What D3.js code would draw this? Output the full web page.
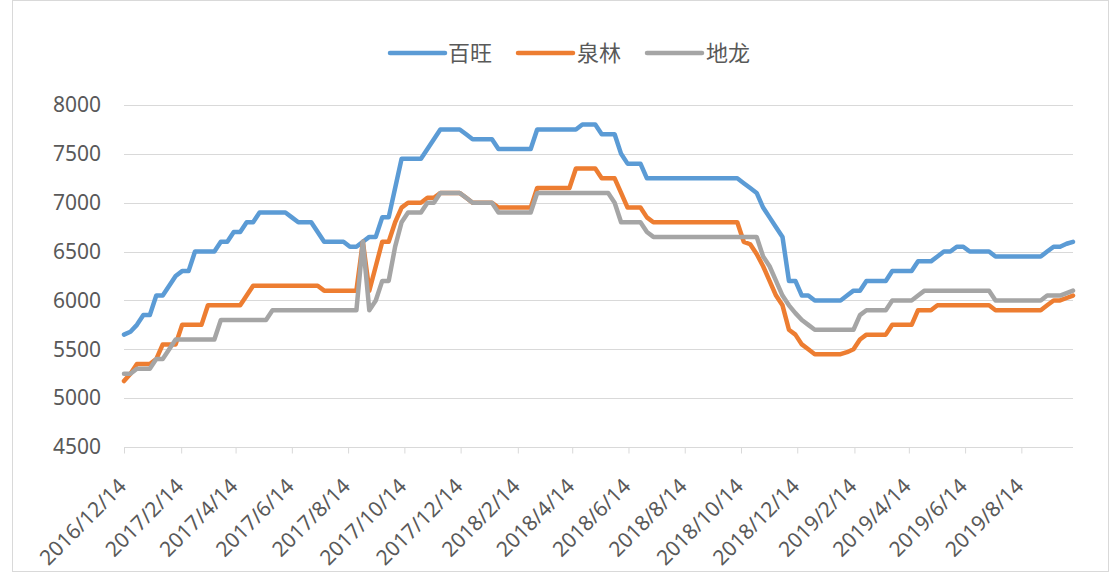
<!DOCTYPE html>
<html>
<head>
<meta charset="utf-8">
<script src="https://cdn.jsdelivr.net/npm/d3@7"></script>
<style>
  html, body { margin: 0; padding: 0; background: #fff; }
  svg { display: block; }
</style>
</head>
<body>
<svg id="chart" width="1110" height="574"></svg>
<script>
// ---------- DATA ----------
const startDate = "2016/12/14";   // weekly observations
const weekCount = 148;
const tickLabels = ["2016/12/14","2017/2/14","2017/4/14","2017/6/14","2017/8/14","2017/10/14",
  "2017/12/14","2018/2/14","2018/4/14","2018/6/14","2018/8/14","2018/10/14","2018/12/14",
  "2019/2/14","2019/4/14","2019/6/14","2019/8/14"];
const yTicks = [4500,5000,5500,6000,6500,7000,7500,8000];
const seriesNames = ["百旺","泉林","地龙"];

const baiwang = [
  5650,5680,5750,5850,5850,6050,6050,6150,6250,6300,
  6300,6500,6500,6500,6500,6600,6600,6700,6700,6800,
  6800,6900,6900,6900,6900,6900,6850,6800,6800,6800,
  6700,6600,6600,6600,6600,6550,6550,6600,6650,6650,
  6850,6850,7150,7450,7450,7450,7450,7550,7650,7750,
  7750,7750,7750,7700,7650,7650,7650,7650,7550,7550,
  7550,7550,7550,7550,7750,7750,7750,7750,7750,7750,
  7750,7800,7800,7800,7700,7700,7700,7500,7400,7400,
  7400,7250,7250,7250,7250,7250,7250,7250,7250,7250,
  7250,7250,7250,7250,7250,7250,7200,7150,7100,6950,
  6850,6750,6650,6200,6200,6050,6050,6000,6000,6000,
  6000,6000,6050,6100,6100,6200,6200,6200,6200,6300,
  6300,6300,6300,6400,6400,6400,6450,6500,6500,6550,
  6550,6500,6500,6500,6500,6450,6450,6450,6450,6450,
  6450,6450,6450,6500,6550,6550,6580,6600];

const quanlin = [
  5175,5250,5350,5350,5350,5400,5550,5550,5550,5750,
  5750,5750,5750,5950,5950,5950,5950,5950,5950,6050,
  6150,6150,6150,6150,6150,6150,6150,6150,6150,6150,
  6150,6100,6100,6100,6100,6100,6100,6600,6100,6350,
  6600,6600,6800,6950,7000,7000,7000,7050,7050,7100,
  7100,7100,7100,7050,7000,7000,7000,7000,6950,6950,
  6950,6950,6950,6950,7150,7150,7150,7150,7150,7150,
  7350,7350,7350,7350,7250,7250,7250,7100,6950,6950,
  6950,6850,6800,6800,6800,6800,6800,6800,6800,6800,
  6800,6800,6800,6800,6800,6800,6600,6575,6475,6350,
  6200,6050,5950,5700,5650,5550,5500,5450,5450,5450,
  5450,5450,5470,5500,5600,5650,5650,5650,5650,5750,
  5750,5750,5750,5900,5900,5900,5950,5950,5950,5950,
  5950,5950,5950,5950,5950,5900,5900,5900,5900,5900,
  5900,5900,5900,5950,6000,6000,6025,6050];

const dilong = [
  5250,5250,5300,5300,5300,5400,5400,5500,5600,5600,
  5600,5600,5600,5600,5600,5800,5800,5800,5800,5800,
  5800,5800,5800,5900,5900,5900,5900,5900,5900,5900,
  5900,5900,5900,5900,5900,5900,5900,6600,5900,6000,
  6200,6200,6550,6800,6900,6900,6900,7000,7000,7100,
  7100,7100,7100,7050,7000,7000,7000,7000,6900,6900,
  6900,6900,6900,6900,7100,7100,7100,7100,7100,7100,
  7100,7100,7100,7100,7100,7100,7000,6800,6800,6800,
  6800,6700,6650,6650,6650,6650,6650,6650,6650,6650,
  6650,6650,6650,6650,6650,6650,6650,6650,6650,6450,
  6350,6200,6050,5950,5870,5800,5750,5700,5700,5700,
  5700,5700,5700,5700,5850,5900,5900,5900,5900,6000,
  6000,6000,6000,6050,6100,6100,6100,6100,6100,6100,
  6100,6100,6100,6100,6100,6000,6000,6000,6000,6000,
  6000,6000,6000,6050,6050,6050,6075,6100];

const colors = ["#5B9BD5","#ED7D31","#A5A5A5"];

// ---------- CHART ----------
const parse = d3.timeParse("%Y/%m/%d");
const t0 = parse(startDate);
const dates = d3.range(weekCount).map(i => d3.timeDay.offset(t0, 7 * i));
const series = [baiwang, quanlin, dilong];

const svg = d3.select("#chart");
const plot = { left: 124, right: 1073, top: 105, bottom: 447 };

// outer frame
svg.append("rect")
  .attr("x", 12.5).attr("y", 0.5)
  .attr("width", 1096).attr("height", 571)
  .attr("fill", "#fff").attr("stroke", "#d9d9d9").attr("stroke-width", 1);

const x = d3.scaleTime().domain([dates[0], dates[dates.length - 1]]).range([plot.left, plot.right]);
const y = d3.scaleLinear().domain([4500, 8000]).range([plot.bottom, plot.top]);

const font = "'Noto Sans', 'Liberation Sans', sans-serif";

// gridlines
svg.append("g").selectAll("line").data(yTicks.slice(1)).join("line")
  .attr("x1", plot.left).attr("x2", plot.right)
  .attr("y1", d => Math.round(y(d)) + 0.5).attr("y2", d => Math.round(y(d)) + 0.5)
  .attr("stroke", "#d9d9d9").attr("stroke-width", 1);

// y axis labels
const yAxis = d3.axisLeft(y).tickValues(yTicks).tickSize(0).tickPadding(23).tickFormat(d3.format("d"));
const gy = svg.append("g").attr("transform", `translate(${plot.left},0)`).call(yAxis);
gy.select(".domain").remove();
gy.selectAll("text")
  .attr("fill", "#595959")
  .style("font-family", font)
  .style("font-size", "21px");

// x axis
const tickDates = tickLabels.map(parse);
const xAxis = d3.axisBottom(x).tickValues(tickDates).tickSize(6)
  .tickFormat((d, i) => tickLabels[i]);
const gx = svg.append("g").attr("transform", `translate(0,${Math.round(y(4500)) + 0.5})`).call(xAxis);
gx.select(".domain").attr("stroke", "#d9d9d9").attr("d", `M${plot.left},0H${plot.right}`);
gx.selectAll(".tick line").attr("stroke", "#d9d9d9");
gx.selectAll(".tick text")
  .attr("fill", "#595959")
  .style("font-family", font)
  .style("font-size", "21px")
  .attr("text-anchor", "end")
  .attr("dy", null)
  .attr("y", 0)
  .attr("transform", "translate(3,40) rotate(-45)");

// lines
const line = d3.line().x((d, i) => x(dates[i])).y(d => y(d));
svg.append("g").selectAll("path").data(series).join("path")
  .attr("d", d => line(d))
  .attr("fill", "none")
  .attr("stroke", (d, i) => colors[i])
  .attr("stroke-width", 4.5)
  .attr("stroke-linejoin", "round")
  .attr("stroke-linecap", "round");

// legend
const legendItems = [
  { x1: 390, x2: 445, tx: 448 },
  { x1: 518, x2: 573, tx: 577 },
  { x1: 647, x2: 702, tx: 706 }
];
const lg = svg.append("g");
seriesNames.forEach((name, i) => {
  const it = legendItems[i];
  lg.append("line").attr("x1", it.x1).attr("x2", it.x2).attr("y1", 53).attr("y2", 53)
    .attr("stroke", colors[i]).attr("stroke-width", 4.5).attr("stroke-linecap", "round");
  lg.append("text").attr("x", it.tx).attr("y", 53).attr("dy", "0.35em")
    .attr("fill", "#595959")
    .style("font-family", "'Noto Sans CJK SC', sans-serif")
    .style("font-size", "22px")
    .text(name);
});
</script>
</body>
</html>
